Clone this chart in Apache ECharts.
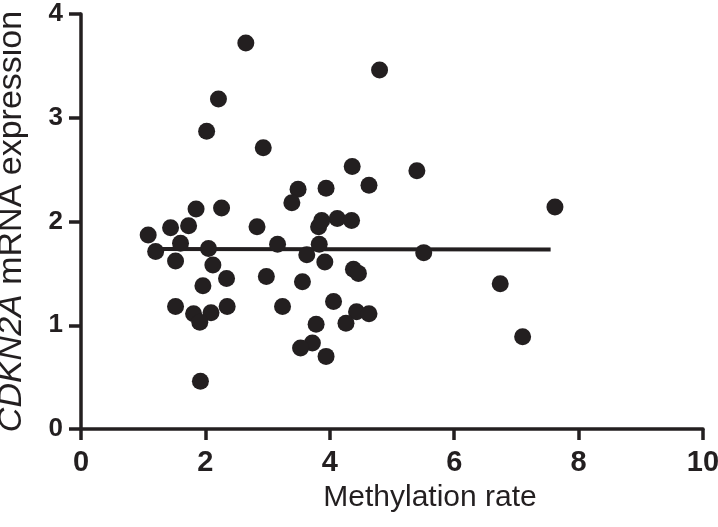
<!DOCTYPE html>
<html>
<head>
<meta charset="utf-8">
<script src="https://cdn.jsdelivr.net/npm/echarts@6/dist/echarts.min.js"></script>
<style>
html,body{margin:0;padding:0;background:#fff;}
#chart{width:718px;height:527px;}
</style>
</head>
<body>
<div id="chart"></div>
<script>
// Methylation rate (x) and CDKN2A mRNA expression (y)
var methylation = [2.65,2.21,2.02,2.93,4.80,4.36,5.40,4.63,3.49,3.94,3.39,1.85,2.26,7.62,4.12,4.35,3.82,3.87,1.73,1.44,2.83,1.08,1.60,3.16,3.83,2.05,1.20,5.51,3.63,1.52,2.12,3.92,4.38,4.46,2.34,2.98,3.56,6.74,1.96,1.52,2.35,3.24,4.06,1.81,2.09,1.91,4.43,4.63,4.26,3.78,7.10,3.72,3.53,3.94,1.92];
var expression  = [3.72,3.18,2.87,2.71,3.46,2.53,2.49,2.35,2.31,2.32,2.18,2.12,2.13,2.14,2.03,2.01,1.95,2.01,1.96,1.94,1.95,1.87,1.79,1.78,1.78,1.74,1.71,1.70,1.68,1.62,1.58,1.61,1.54,1.50,1.45,1.47,1.42,1.40,1.38,1.18,1.18,1.18,1.23,1.11,1.12,1.03,1.13,1.11,1.02,1.01,0.89,0.83,0.78,0.70,0.46];
// Regression line endpoints
var fitX = [1.10, 7.55];
var fitY = [1.735, 1.73];
var xTicks = [0,2,4,6,8,10];
var yTicks = [0,1,2,3,4];

var ink = '#231f20';
var font = '"Liberation Sans", Arial, Helvetica, sans-serif';

var pts = methylation.map(function(x,i){return [x, expression[i]];});
var fit = fitX.map(function(x,i){return [x, fitY[i]];});

var chart = echarts.init(document.getElementById('chart'), null, {renderer:'canvas'});
chart.setOption({
  animation:false,
  backgroundColor:'#fff',
  grid:{left:81, right:15, top:14, bottom:98, containLabel:false, outerBoundsMode:'none'},
  xAxis:{
    type:'value', min:xTicks[0], max:xTicks[xTicks.length-1], interval:2,
    name:'Methylation rate', nameLocation:'middle', nameGap:54,
    nameTextStyle:{fontFamily:font, fontSize:30, color:ink, padding:[0,0,0,76]},
    axisLine:{show:true, onZero:false, lineStyle:{color:ink, width:3.5}},
    axisTick:{show:true, inside:false, length:11, lineStyle:{color:ink, width:3.5}},
    axisLabel:{fontFamily:font, fontSize:29, fontWeight:'bold', color:ink, margin:19},
    splitLine:{show:false}
  },
  yAxis:{
    type:'value', min:yTicks[0], max:yTicks[yTicks.length-1], interval:1,
    name:'{i|CDKN2A} mRNA expression', nameLocation:'middle', nameGap:52,
    nameTextStyle:{fontFamily:font, fontSize:34, color:ink,
      rich:{i:{fontFamily:font, fontSize:34, fontStyle:'italic', color:ink}}},
    axisLine:{show:true, onZero:false, lineStyle:{color:ink, width:3.5}},
    axisTick:{show:true, inside:false, length:12, lineStyle:{color:ink, width:3.5}},
    axisLabel:{fontFamily:font, fontSize:26, fontWeight:'bold', color:ink, margin:18},
    splitLine:{show:false}
  },
  series:[
    {type:'line', data:fit, symbol:'none', lineStyle:{color:ink, width:4}, z:1},
    {type:'scatter', data:pts, symbol:'circle', symbolSize:17, itemStyle:{color:ink, opacity:1}, z:2}
  ]
});
</script>
</body>
</html>
